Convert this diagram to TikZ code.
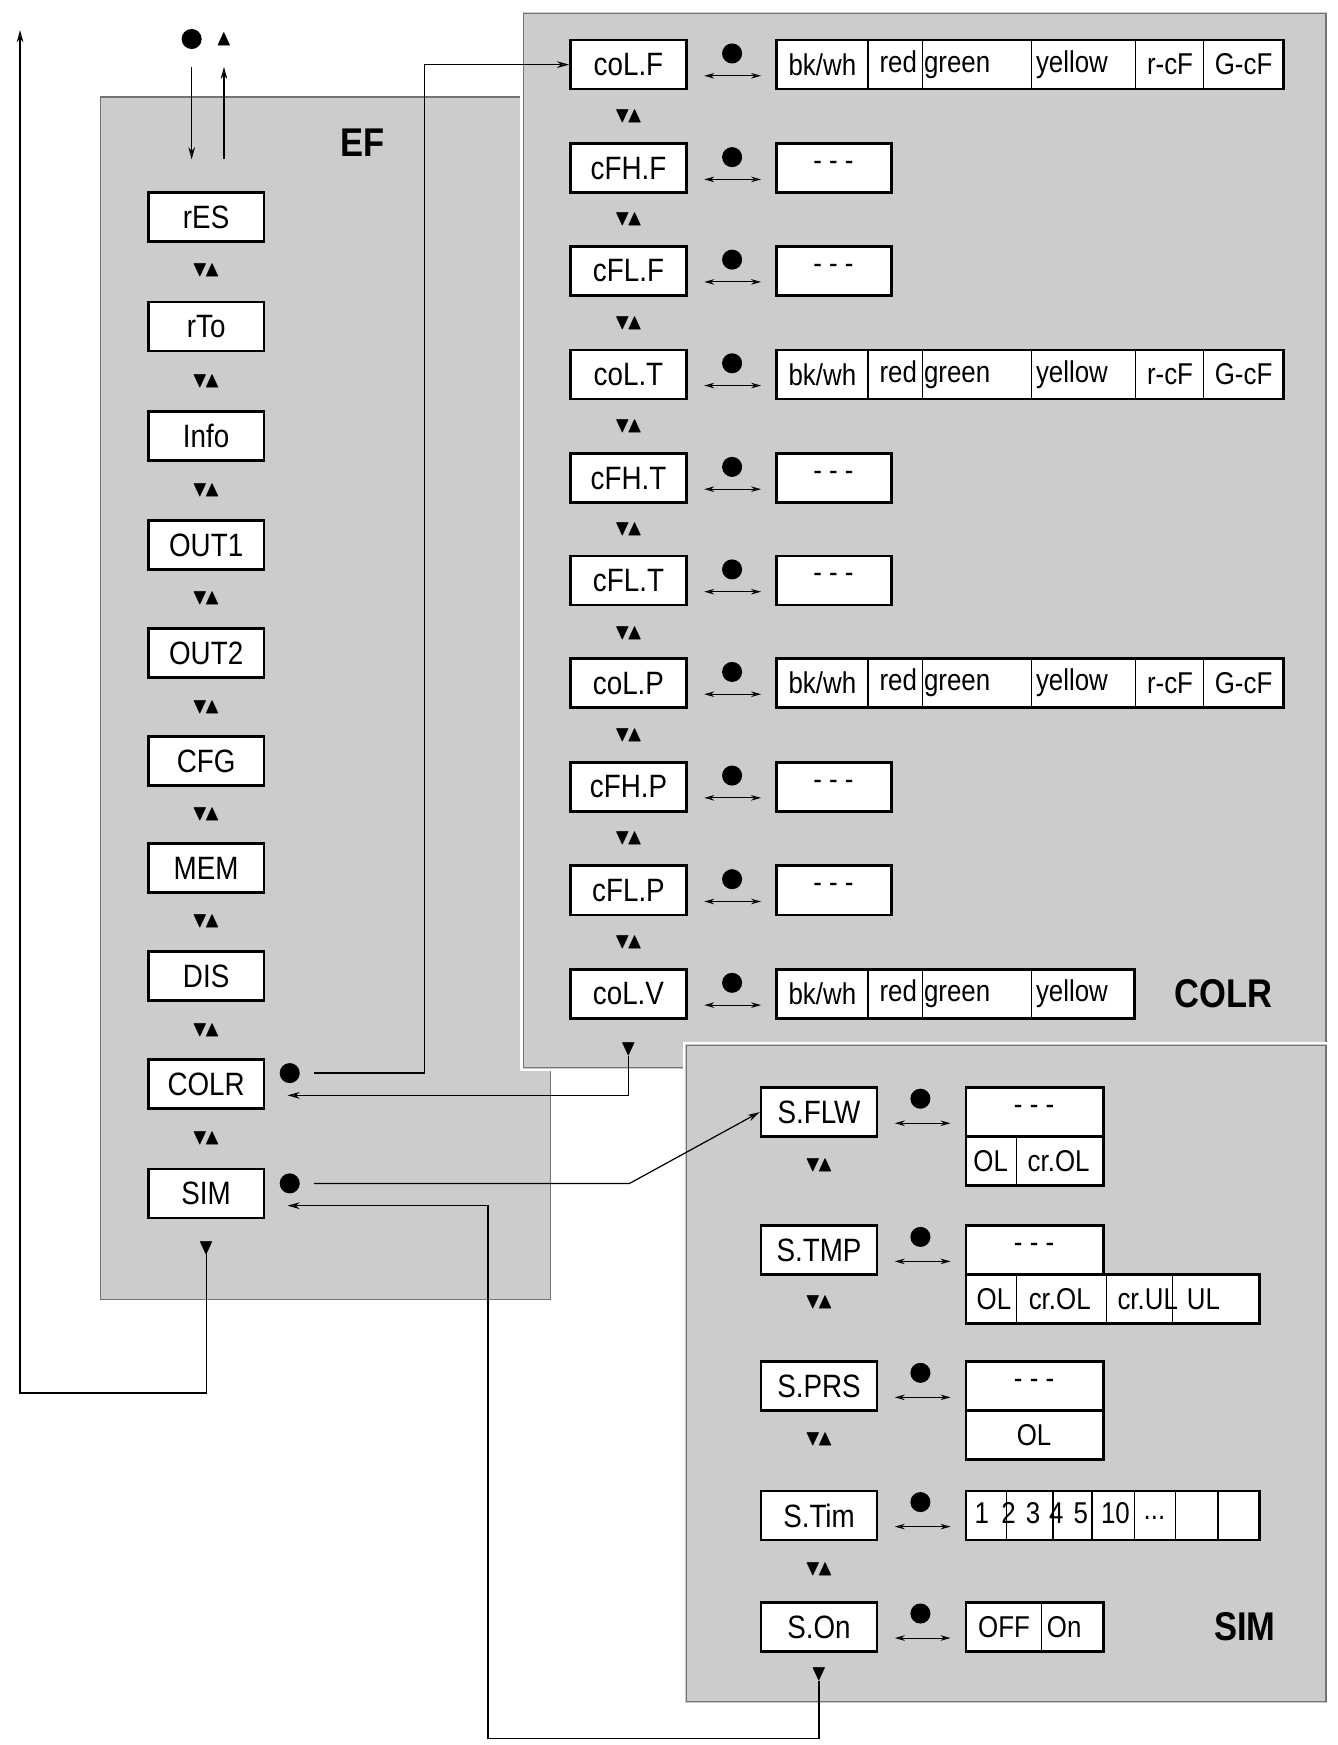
\documentclass[tikz,border=0pt]{standalone}
\usepackage{amssymb}
\usepackage{fontspec}
\setmainfont{Liberation Sans}[FakeStretch=0.86]
\usetikzlibrary{arrows.meta}
\begin{document}
\begin{tikzpicture}[x=1pt,y=-1pt,
  panel/.style={fill=black!20,draw=black!55,line width=1.2pt},
  item/.style={draw,line width=2.4pt,fill=white,minimum width=104pt,minimum height=44pt,inner sep=0pt,font=\fontsize{29}{30}\selectfont},
  opt/.style={draw,line width=2.4pt,fill=white},
  ot/.style={font=\fontsize{27}{28}\selectfont,inner sep=0pt},
  ud/.style={font=\fontsize{20}{20}\selectfont,inner sep=0pt},
  big/.style={font=\fontsize{36}{36}\selectfont\bfseries,inner sep=0pt},
  con/.style={line width=1.1pt,-{Stealth[length=11pt,width=6pt,open]}},
  lin/.style={line width=1.1pt},
  dot/.style={circle,fill=black,inner sep=0pt,minimum width=18pt,minimum height=15pt},
  dbl/.style={line width=0.9pt,{Stealth[length=9pt,width=5pt,open]}-{Stealth[length=9pt,width=5pt,open]}}]
\useasboundingbox (0,0) rectangle (1200,1566);
% panels
\draw[panel] (90,87) rectangle (494,1166);
\draw[fill=black!20,draw=white,line width=2pt] (468,10) rectangle (1192,960);
\draw[draw=black!55,line width=1.2pt] (470,12) rectangle (1190,958);
\draw[fill=black!20,draw=white,line width=2pt] (614,936) rectangle (1192,1529);
\draw[draw=black!55,line width=1.2pt] (616,938) rectangle (1190,1527);
\node[big] (tEF) at (325,128) {EF};
\node[big] (tCOLR) at (1098,892) {COLR};
\node[big] (tSIM) at (1117,1460) {SIM};
% EF items
\foreach \n/\t/\y in {e1/rES/195,e2/rTo/293,e3/Info/391,e4/OUT1/489,e5/OUT2/586,e6/CFG/683,e7/MEM/779,e8/DIS/876,e9/COLR/973,e10/SIM/1071}
  \node[item] (\n) at (185,\y) {\t};
\foreach \y [count=\k] in {243,342,440,537,635,731,827,925,1022}
  \node[ud] (eud\k) at (185,\y) {$\blacktriangledown\!\blacktriangle$};
\node[ud] (eend) at (185,1120) {$\blacktriangledown$};
% top
\node[dot] (tdot) at (172,35) {};
\node[ud] (ttri) at (201,35) {$\blacktriangle$};
\coordinate (td1) at (172,60); \coordinate (td2) at (172,143);
\coordinate (tu1) at (201,143); \coordinate (tu2) at (201,60);
\draw[con] (td1) -- (td2);
\draw[con] (tu1) -- (tu2);
\coordinate (lt) at (18,27);
\draw[con] (eend.south) |- (18,1250) -- (lt);
% COLR items
\foreach \n/\t/\y in {c1/coL.F/58,c2/cFH.F/151,c3/cFL.F/243,c4/coL.T/336,c5/cFH.T/429,c6/cFL.T/521,c7/coL.P/613,c8/cFH.P/706,c9/cFL.P/799,c10/coL.V/892}{
  \node[item] (\n) at (564,\y) {\t};
  \node[dot] (\n d) at (657,\y-10) {};
  \coordinate (\n a) at (632,\y+10); \coordinate (\n b) at (683,\y+10);
  \draw[dbl] (\n a) -- (\n b);}
\foreach \y [count=\k] in {104,197,290,383,475,568,660,752,846}
  \node[ud] (cud\k) at (564,\y) {$\blacktriangledown\!\blacktriangle$};
\node[ud] (cend) at (564,942) {$\blacktriangledown$};
% long option boxes
\foreach \y in {58,336,613}{
  \draw[opt] (697,\y-22) rectangle (1152,\y+22);
  \foreach \x in {779,828,926,1019,1080} \draw[line width=1pt] (\x,\y-22) -- (\x,\y+22);
  \node[ot] at (738,\y) {bk/wh};
  \node[ot] at (839,\y) {red green};
  \node[ot] at (962,\y) {yellow};
  \node[ot] at (1050,\y) {r-cF};
  \node[ot] at (1116,\y) {G-cF};}
\draw[opt] (697,870) rectangle (1018,914);
\foreach \x in {779,828,926} \draw[line width=1pt] (\x,870) -- (\x,914);
\node[ot] at (738,892) {bk/wh};
\node[ot] at (839,892) {red green};
\node[ot] at (962,892) {yellow};
\foreach \y in {151,243,429,521,706,799}{
  \draw[opt] (697,\y-22) rectangle (800,\y+22);
  \node[ot] at (748,\y-2) {- - -};}
% SIM items
\foreach \n/\t/\y in {s1/S.FLW/998,s2/S.TMP/1122,s3/S.PRS/1244,s4/S.Tim/1360,s5/S.On/1460}{
  \node[item] (\n) at (735,\y) {\t};
  \node[dot] (\n d) at (826,\y-12) {};
  \coordinate (\n a) at (803,\y+10); \coordinate (\n b) at (853,\y+10);
  \draw[dbl] (\n a) -- (\n b);}
\foreach \y [count=\k] in {1046,1169,1292,1408}
  \node[ud] (sud\k) at (735,\y) {$\blacktriangledown\!\blacktriangle$};
\node[ud] (send) at (735,1503) {$\blacktriangledown$};
% SIM options
\draw[opt] (867,976) rectangle (990,1020); \node[ot] at (928,996) {- - -};
\draw[opt] (867,1020) rectangle (990,1064); \draw[line width=1pt] (912,1020)--(912,1064);
\node[ot] at (889,1042) {OL}; \node[ot] at (950,1042) {cr.OL};
\draw[opt] (867,1100) rectangle (990,1144); \node[ot] at (928,1120) {- - -};
\draw[opt] (867,1144) rectangle (1130,1188);
\foreach \x in {912,993,1052} \draw[line width=1pt] (\x,1144)--(\x,1188);
\node[ot] at (892,1166) {OL}; \node[ot] at (951,1166) {cr.OL};
\node[ot] at (1030,1166) {cr.UL}; \node[ot] at (1080,1166) {UL};
\draw[opt] (867,1222) rectangle (990,1266); \node[ot] at (928,1242) {- - -};
\draw[opt] (867,1266) rectangle (990,1310); \node[ot] at (928,1288) {OL};
\draw[opt] (867,1338) rectangle (1130,1382);
\foreach \x in {903,945,980,1018,1055,1093} \draw[line width=1pt] (\x,1338)--(\x,1382);
\foreach \x/\t in {881/1,905/2,927/3,948/4,970/5,1001/10} \node[ot] at (\x,1358) {\t};
\node[ot] at (1036,1362) {...};
\draw[opt] (867,1438) rectangle (990,1482); \draw[line width=1pt] (935,1438)--(935,1482);
\node[ot] at (901,1460) {OFF}; \node[ot] at (955,1460) {On};
% connectors
\node[dot] (cdot) at (260,963) {};
\node[dot] (sdot) at (260,1062) {};
\coordinate (cs) at (282,963); \coordinate (ss) at (282,1062);
\coordinate (cr) at (258,983); \coordinate (sr) at (258,1082);
\draw[con] (cs) -- (381,963) |- (c1.west);
\draw[con] (cend.south) |- (cr);
\draw[con] (ss) -- (565,1062) -- (s1.west);
\draw[con] (send.south) |- (438,1560) |- (sr);
\end{tikzpicture}
\end{document}
